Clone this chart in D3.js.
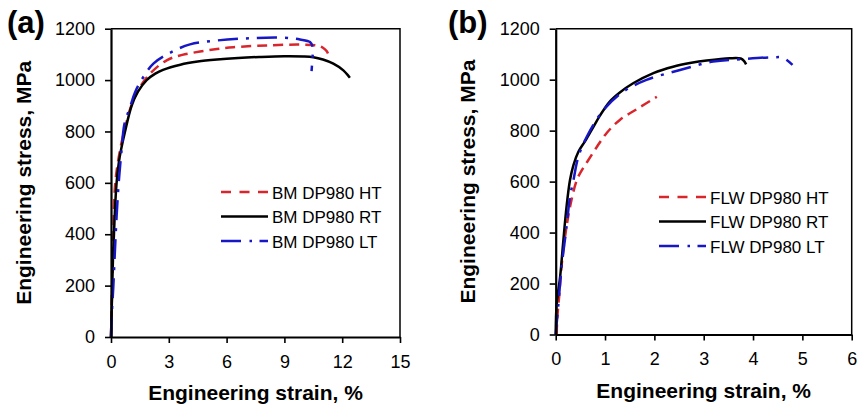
<!DOCTYPE html>
<html>
<head>
<meta charset="utf-8">
<script src="https://cdn.jsdelivr.net/npm/d3@7"></script>
<style>
  body { margin: 0; background: #fff; }
  svg text { font-family: "Liberation Sans", Arial, sans-serif; fill: #000; }
</style>
</head>
<body>
<svg id="chart" width="857" height="405"></svg>
<script>
// Tick values
const stressTicks = [0, 200, 400, 600, 800, 1000, 1200];
const strainTicksA = [0, 3, 6, 9, 12, 15];
const strainTicksB = [0, 1, 2, 3, 4, 5, 6];

// Base metal curves: [engineering strain %, engineering stress MPa]
const bmHT = [[0,0],[0.06,200],[0.12,400],[0.2,580],[0.3,650],[0.5,740],[0.75,820],[1.05,900],[1.4,960],
  [2.03,1025],[2.89,1077],[3.7,1098],[4.62,1111],[5.5,1121],[6.35,1128],[8.08,1135],[9.81,1138],
  [10.67,1135],[11.0,1126],[11.2,1112],[11.3,1096]];
const bmRT = [[0,0],[0.05,150],[0.1,300],[0.18,450],[0.29,600],[0.45,700],[0.73,800],[1.07,900],[1.4,955],
  [1.85,1000],[2.3,1025],[2.7,1040],[3.6,1060],[4.5,1072],[5.5,1080],[6.6,1086],[7.7,1090],[9.0,1093],
  [10.0,1092],[10.5,1089],[11.0,1080],[11.54,1064],[12.06,1038],[12.4,1009]];
const bmLT = [[0,0],[0.05,100],[0.12,196],[0.2,330],[0.29,468],[0.4,600],[0.55,728],[0.7,830],[0.99,895],
  [1.25,953],[1.68,1012],[2.2,1064],[3.06,1106],[4.1,1139],[5.48,1154],[7.21,1163],[8.94,1165],
  [9.81,1158],[10.33,1148],[10.47,1128],[10.45,1080],[10.41,1035]];

// Fibre-laser-welded curves
const flwHT = [[0.02,0],[0.03,60],[0.07,150],[0.13,290],[0.22,424],[0.32,528],[0.43,607],[0.53,645],
  [0.63,675],[0.83,735],[1.03,790],[1.3,842],[1.64,884],[2.05,933]];
const flwRT = [[0,0],[0.02,120],[0.09,227],[0.15,358],[0.22,502],[0.29,606],[0.36,665],[0.46,717],
  [0.6,760],[0.75,810],[0.9,860],[1.1,915],[1.3,950],[1.57,986],[1.98,1026],[2.38,1051],[2.75,1066],
  [3.06,1075],[3.53,1084],[3.75,1083],[3.82,1073],[3.86,1060]];
const flwLT = [[0,0],[0.05,109],[0.12,266],[0.22,423],[0.29,541],[0.36,606],[0.46,698],[0.63,776],
  [0.97,881],[1.37,953],[1.84,999],[2.52,1038],[3.19,1071],[3.74,1080],[4.41,1088],[4.61,1086],[4.8,1058]];

const legendA = ["BM DP980 HT", "BM DP980 RT", "BM DP980 LT"];
const legendB = ["FLW DP980 HT", "FLW DP980 RT", "FLW DP980 LT"];

// Line styles for HT, RT, LT
const styles = [
  { color: "#d9262c", dash: "10,6", legendDash: "10,8.5" },
  { color: "#000000", dash: null, legendDash: null },
  { color: "#1717c6", dash: "20,8,3,8", legendDash: "20,8.5,2.5,7.5" }
];

const svg = d3.select("#chart");

function drawPanel(cfg) {
  const x = d3.scaleLinear().domain([0, cfg.xMax]).range([cfg.left, cfg.right]);
  const y = d3.scaleLinear().domain([0, 1200]).range([cfg.bottom, cfg.top]);
  const g = svg.append("g");

  // frame (top and right)
  g.append("path")
    .attr("d", `M${cfg.left},${cfg.top}H${cfg.right}V${cfg.bottom}`)
    .attr("fill", "none").attr("stroke", "#000").attr("stroke-width", 1.5);

  // curves
  const line = d3.line().x(d => x(d[0])).y(d => y(d[1])).curve(d3.curveCatmullRom.alpha(0.5));
  cfg.series.forEach((s, i) => {
    g.append("path").datum(s)
      .attr("d", line)
      .attr("fill", "none")
      .attr("stroke", styles[i].color)
      .attr("stroke-width", 2.5)
      .attr("stroke-dasharray", styles[i].dash);
  });

  // axes
  const ax = g.append("g").attr("transform", `translate(0,${cfg.bottom})`)
    .call(d3.axisBottom(x).tickValues(cfg.xTicks).tickSize(6).tickSizeOuter(0).tickPadding(12).tickFormat(d3.format("d")));
  const ay = g.append("g").attr("transform", `translate(${cfg.left},0)`)
    .call(d3.axisLeft(y).tickValues(stressTicks).tickSize(6).tickSizeOuter(0).tickPadding(10).tickFormat(d3.format("d")));
  [ax, ay].forEach(a => {
    a.select(".domain").attr("stroke", "#000").attr("stroke-width", 2.2);
    a.selectAll(".tick line").attr("stroke", "#000").attr("stroke-width", 1.6);
    a.selectAll(".tick text").attr("font-size", 18).attr("fill", "#000")
      .style("font-family", '"Liberation Sans", Arial, sans-serif');
  });

  // axis titles
  g.append("text")
    .attr("x", (cfg.left + cfg.right) / 2).attr("y", cfg.xTitleY)
    .attr("text-anchor", "middle").attr("font-size", 21).attr("font-weight", "bold")
    .text("Engineering strain, %");
  g.append("text")
    .attr("transform", `translate(${cfg.yTitleX},${(cfg.top + cfg.bottom) / 2}) rotate(-90)`)
    .attr("text-anchor", "middle").attr("font-size", 21).attr("font-weight", "bold")
    .text("Engineering stress, MPa");

  // panel letter
  g.append("text").attr("x", cfg.labelX).attr("y", 33)
    .attr("font-size", 31).attr("font-weight", "bold").text(cfg.label);

  // legend
  cfg.legend.forEach((name, i) => {
    const ly = cfg.legY + i * 24.5;
    g.append("line")
      .attr("x1", cfg.legX).attr("x2", cfg.legX + 47).attr("y1", ly).attr("y2", ly)
      .attr("stroke", styles[i].color).attr("stroke-width", 2.5)
      .attr("stroke-dasharray", styles[i].legendDash);
    g.append("text").attr("x", cfg.legX + 51).attr("y", ly + 6.5)
      .attr("font-size", 17).text(name);
  });
}

drawPanel({
  left: 111, right: 400, top: 28.7, bottom: 337, xMax: 15, xTicks: strainTicksA,
  series: [bmHT, bmRT, bmLT], legend: legendA, legX: 221, legY: 192,
  label: "(a)", labelX: 7, xTitleY: 400, yTitleX: 31
});
drawPanel({
  left: 555.7, right: 851.7, top: 28.7, bottom: 334.5, xMax: 6, xTicks: strainTicksB,
  series: [flwHT, flwRT, flwLT], legend: legendB, legX: 659, legY: 197,
  label: "(b)", labelX: 448, xTitleY: 398, yTitleX: 475
});
</script>
</body>
</html>
